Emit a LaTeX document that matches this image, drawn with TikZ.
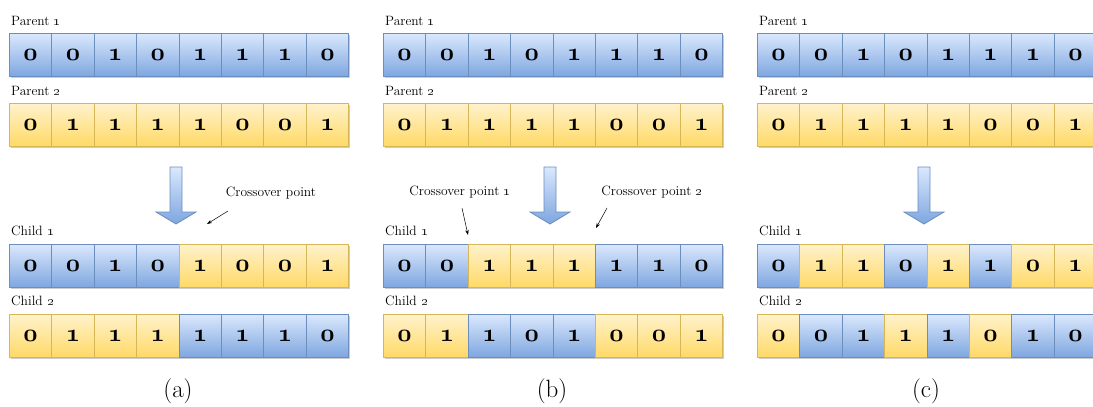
\documentclass[tikz,border=0pt]{standalone}
\usetikzlibrary{arrows.meta,shadows}

\definecolor{lineB}{HTML}{6C8EBF}
\definecolor{topB}{HTML}{DAE8FC}
\definecolor{botB}{HTML}{7EA6E0}
\definecolor{lineY}{HTML}{D6B656}
\definecolor{topY}{HTML}{FFF2CC}
\definecolor{botY}{HTML}{FFD966}

% bold old style figures for the genes
\newcommand{\genedigit}[1]{{\usefont{OML}{cmm}{b}{it}#1}}

\tikzset{
  gene/.style={minimum width=42.4pt, minimum height=43pt, inner sep=0pt,
    anchor=north west, line width=0.8pt, draw=line#1, top color=top#1,
    bottom color=bot#1, font=\fontsize{23}{26}\selectfont,
    drop shadow={shadow xshift=1.5pt, shadow yshift=-1.5pt, opacity=0.2, fill=black}},
  rowlabel/.style={anchor=base west, inner sep=0pt, font=\fontsize{13.5}{16}\selectfont},
  pointlabel/.style={inner sep=0pt, font=\fontsize{13.5}{16}\selectfont},
  caption/.style={inner sep=0pt, font=\fontsize{25}{30}\selectfont},
  pointer/.style={-{Stealth[length=5pt,width=3.5pt]}, line width=0.5pt},
  bigarrow/.style={draw=lineB, line width=0.8pt, top color=topB, bottom color=botB}
}

% one chromosome: name, left x, top y, list of bit/colour
\newcommand{\chromosome}[4]{
  \foreach \bit/\col [count=\i] in {#4}
    \node[gene=\col] (#1-\i) at ({#2+(\i-1)*42.4}, #3) {\genedigit{\bit}};
}

\begin{document}
\begin{tikzpicture}[x=1pt, y=-1pt]
  \useasboundingbox (0,0) rectangle (1093,407);

  % parents, arrow and caption are the same in all three panels
  \foreach \px/\pn in {9/a,383/b,757/c}{
    \node[rowlabel] (\pn-p1-label) at (\px+2,25) {Parent \oldstylenums{1}};
    \chromosome{\pn-p1}{\px}{33}{0/B,0/B,1/B,0/B,1/B,1/B,1/B,0/B}
    \node[rowlabel] (\pn-p2-label) at (\px+2,95) {Parent \oldstylenums{2}};
    \chromosome{\pn-p2}{\px}{103}{0/Y,1/Y,1/Y,1/Y,1/Y,0/Y,0/Y,1/Y}
    \node[rowlabel] (\pn-c1-label) at (\px+2,235) {Child \oldstylenums{1}};
    \node[rowlabel] (\pn-c2-label) at (\px+2,305) {Child \oldstylenums{2}};
    % big down arrow
    \path[bigarrow] (\px+161,167) -- (\px+173,167) -- (\px+173,212) -- (\px+187,212)
      -- (\px+167,224) -- (\px+147,212) -- (\px+161,212) -- cycle;
    \node[caption] (\pn-caption) at (\px+169,391) {(\pn)};
  }

  % (a) single point crossover
  \chromosome{a-c1}{9}{244}{0/B,0/B,1/B,0/B,1/Y,0/Y,0/Y,1/Y}
  \chromosome{a-c2}{9}{314}{0/Y,1/Y,1/Y,1/Y,1/B,1/B,1/B,0/B}
  \node[pointlabel] (a-cross) at (271,193) {Crossover point};
  \coordinate (a-cross-from) at (228,211);
  \coordinate (a-cross-to) at (207,224);
  \draw[pointer] (a-cross-from) -- (a-cross-to);

  % (b) two point crossover
  \chromosome{b-c1}{383}{244}{0/B,0/B,1/Y,1/Y,1/Y,1/B,1/B,0/B}
  \chromosome{b-c2}{383}{314}{0/Y,1/Y,1/B,0/B,1/B,0/Y,0/Y,1/Y}
  \node[pointlabel] (b-cross1) at (460,192) {Crossover point \oldstylenums{1}};
  \node[pointlabel] (b-cross2) at (652,192) {Crossover point \oldstylenums{2}};
  \coordinate (b-cross1-from) at (462,208);
  \coordinate (b-cross1-to) at (468,235);
  \coordinate (b-cross2-from) at (607,208);
  \coordinate (b-cross2-to) at (596,228);
  \draw[pointer] (b-cross1-from) -- (b-cross1-to);
  \draw[pointer] (b-cross2-from) -- (b-cross2-to);

  % (c) uniform crossover
  \chromosome{c-c1}{757}{244}{0/B,1/Y,1/Y,0/B,1/Y,1/B,0/Y,1/Y}
  \chromosome{c-c2}{757}{314}{0/Y,0/B,1/B,1/Y,1/B,0/Y,1/B,0/B}
\end{tikzpicture}
\end{document}
